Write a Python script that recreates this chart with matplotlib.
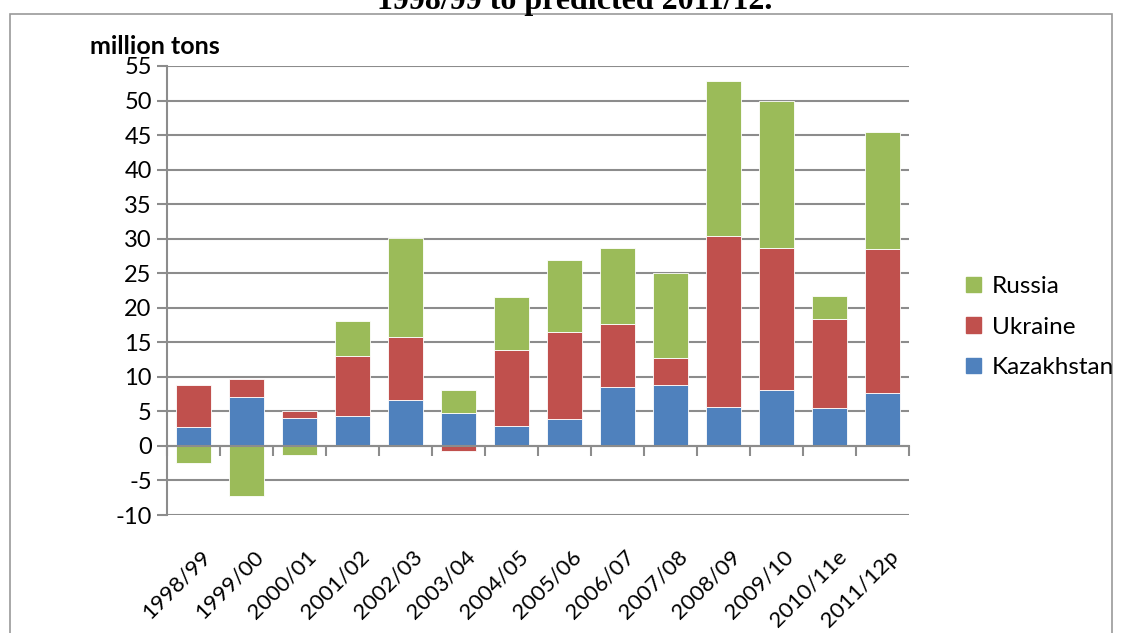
"""
Grain exports of Russia, Ukraine and Kazakhstan, stacked by country.
Rebuilt from an Excel chart, values read off the picture.
"""

import numpy as np
import matplotlib
matplotlib.use('Agg')
import matplotlib.pyplot as plt
from matplotlib.patches import Patch, Rectangle

# marketing years on the category axis
years = ['1998/99', '1999/00', '2000/01', '2001/02', '2002/03', '2003/04',
         '2004/05', '2005/06', '2006/07', '2007/08', '2008/09', '2009/10',
         '2010/11e', '2011/12p']

# million tons per country (negatives are net imports)
kazakhstan = [2.7, 7.1, 4.1, 4.3, 6.65, 4.7, 2.9, 3.9, 8.5, 8.8, 5.7, 8.05,
              5.45, 7.6]
ukraine = [6.1, 2.6, 0.9, 8.7, 9.15, -0.8, 11.0, 12.6, 9.2, 4.0, 24.65,
           20.65, 12.95, 20.9]
russia = [-2.5, -7.2, -1.35, 5.1, 14.3, 3.35, 7.6, 10.4, 11.0, 12.2, 22.55,
          21.2, 3.3, 16.9]

y_ticks = list(range(-10, 56, 5))

# Excel-ish colours
c_kaz = '#4F81BD'
c_ukr = '#C0504D'
c_rus = '#9BBB59'
grid_col = '#8C8C8C'

plt.rcParams['font.family'] = ['Lato', 'DejaVu Sans']
# excel shows a plain hyphen for negatives
plt.rcParams['axes.unicode_minus'] = False

fig = plt.figure(figsize=(11.23, 6.33), dpi=100)
W, H = 1123., 633.
# plot area in pixels: left 167, right 909, top 66, bottom 515
ax = fig.add_axes([167/W, 1 - 515/H, (909-167)/W, (515-66)/H])

x = np.arange(len(years))
series = [(kazakhstan, c_kaz, 'Kazakhstan'),
          (ukraine, c_ukr, 'Ukraine'),
          (russia, c_rus, 'Russia')]

# stack positives upward and negatives downward, like Excel does
pos_base = np.zeros(len(years))
neg_base = np.zeros(len(years))
for vals, col, name in series:
    vals = np.array(vals)
    base = np.where(vals >= 0, pos_base, neg_base)
    ax.bar(x, vals, bottom=base, width=0.65, color=col,
           edgecolor='white', linewidth=0.6, zorder=3, label=name)
    pos_base = pos_base + np.clip(vals, 0, None)
    neg_base = neg_base + np.clip(vals, None, 0)

ax.set_xlim(-0.5, len(years) - 0.5)
ax.set_ylim(-10, 55)
ax.set_yticks(y_ticks)
ax.tick_params(axis='y', labelsize=17, length=7, width=1.5, color=grid_col,
               pad=4)
ax.yaxis.grid(True, color=grid_col, linewidth=1.5, zorder=0)

# category axis sits at zero, ticks between categories
for side in ['top', 'right']:
    ax.spines[side].set_visible(False)
ax.spines['bottom'].set_position(('data', 0))
ax.spines['bottom'].set_color(grid_col)
ax.spines['bottom'].set_linewidth(1.5)
ax.spines['bottom'].set_zorder(4)
ax.spines['left'].set_color(grid_col)
ax.spines['left'].set_linewidth(1.5)
ax.set_xticks(np.arange(len(years) + 1) - 0.5)
ax.set_xticklabels([])
ax.tick_params(axis='x', length=7, width=1.5, color=grid_col)

# year labels go under the whole plot, not under the zero line
for i, yr in enumerate(years):
    ax.text(i + 0.12, -0.07, yr, transform=ax.get_xaxis_transform(),
            rotation=45, rotation_mode='anchor', ha='right', va='top',
            fontsize=16)

fig.text(90/W, 1 - 46/H, 'million tons', fontsize=18, fontweight='bold',
         va='center', ha='left')

# legend, reversed order
handles = [Patch(color=c_rus), Patch(color=c_ukr), Patch(color=c_kaz)]
fig.legend(handles, ['Russia', 'Ukraine', 'Kazakhstan'],
           loc='center left', bbox_to_anchor=(944/W, 1 - 327/H),
           frameon=False, fontsize=17.5, handlelength=0.62,
           handleheight=0.62, handletextpad=0.45, labelspacing=0.8)

# chart border and the title cut off at the top
fig.patches.append(Rectangle((10/W, -0.05), (1112-10)/W, 1.05 - 14/H,
                             transform=fig.transFigure, fill=False,
                             edgecolor='#9A9A9A', linewidth=1.2))
fig.text(575/W, 1 - 9.5/H, '1998/99 to predicted 2011/12.', fontsize=23,
         fontweight='bold', family='Liberation Serif', ha='center',
         va='baseline')

fig.savefig('out.png', dpi=100)
